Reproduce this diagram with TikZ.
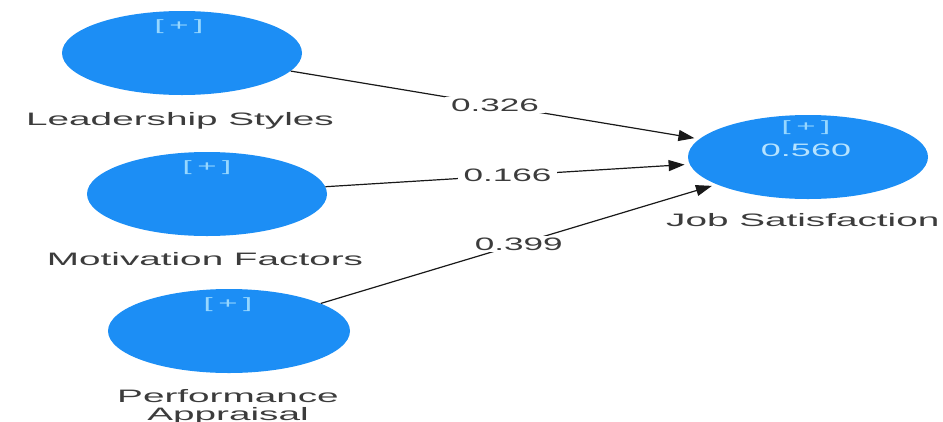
\documentclass[tikz,border=0pt]{standalone}
\usepackage{fontspec}
\setmainfont{Liberation Sans}
\usepackage{graphicx}
\usetikzlibrary{shapes.geometric, arrows.meta}
\definecolor{plsblue}{RGB}{28,142,245}
\definecolor{plsplus}{RGB}{150,215,255}
\definecolor{plstext}{RGB}{60,60,60}
\newcommand{\wide}[2][2.15]{\scalebox{#1}[1]{#2}}

\begin{document}
\begin{tikzpicture}[x=1pt, y=-1pt,
    plus/.style={text=plsplus, font=\fontsize{15}{15}\selectfont, inner sep=0pt},
    caption/.style={text=plstext, font=\fontsize{18}{17.5}\selectfont, inner sep=0pt, anchor=base, align=center},
    coef/.style={fill=white, text=plstext, font=\fontsize{18}{18}\selectfont, inner xsep=6pt, inner ysep=2pt},
    link/.style={draw=black!90, line width=1.2pt, shorten >=5pt, -{Triangle[length=16pt, width=11pt]}}]
    \path[use as bounding box, fill=white] (0,0) rectangle (943,421);

    \begin{scope}[every node/.style={ellipse, fill=plsblue, inner sep=0pt, minimum height=84pt}]
    \node[minimum width=240pt] (LS) at (182,53) {};
    \node[minimum width=240pt] (MF) at (207,194) {};
    \node[minimum width=242pt] (PA) at (229,331) {};
    \node[minimum width=240pt] (JS) at (808,157) {};
    \end{scope}

    \node[plus] (LSp) at (179,26.5) {\wide[2.2]{[\,+\,]}};
    \node[plus] (MFp) at (207,168) {\wide[2.2]{[\,+\,]}};
    \node[plus] (PAp) at (228,305) {\wide[2.2]{[\,+\,]}};
    \node[plus] (JSp) at (806,128) {\wide[2.2]{[\,+\,]}};
    \node[plus, font=\fontsize{18}{18}\selectfont, text=plsplus!70!white] (JSr) at (806,150) {\wide[2.0]{0.560}};

    \node[caption] (LSl) at (180,125) {\wide{Leadership Styles}};
    \node[caption] (MFl) at (205,265) {\wide{Motivation Factors}};
    \node[caption] (PAl) at (228,420) {\wide{Performance}\\\wide{Appraisal}};
    \node[caption, anchor=base west] (JSl) at (666,226) {\wide{Job Satisfaction}};

    \draw[link] (LS) -- node[coef] {\wide[1.95]{0.326}} (JS);
    \draw[link] (MF) -- node[coef] {\wide[1.95]{0.166}} (JS);
    \draw[link] (PA) -- node[coef] {\wide[1.95]{0.399}} (JS);
\end{tikzpicture}
\end{document}
